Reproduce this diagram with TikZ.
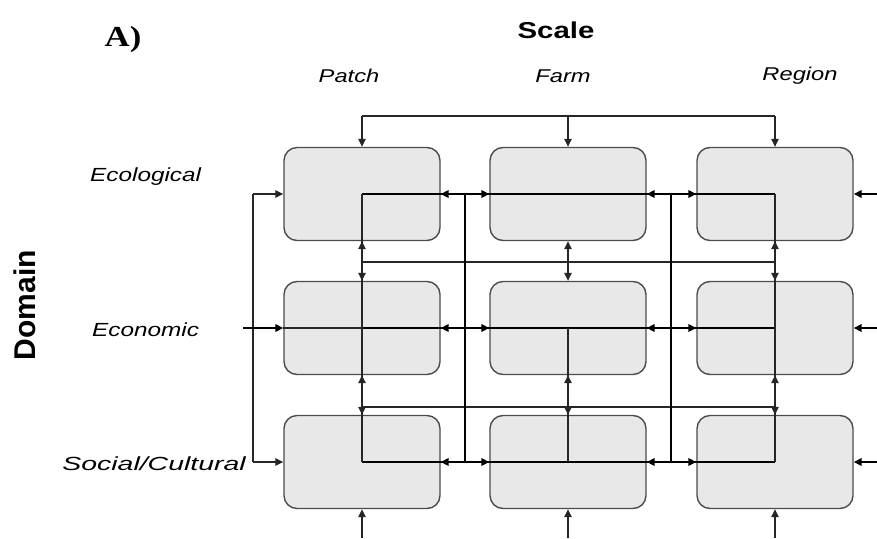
\documentclass[tikz,border=0pt]{standalone}
\usepackage{fontspec}
\usepackage{graphicx}
\setmainfont{Liberation Sans}
\newfontfamily\labfont[FakeStretch=1.28]{Liberation Sans}
\newfontfamily\titlefont[FakeStretch=1.2]{Liberation Serif}
\usetikzlibrary{arrows.meta}

\begin{document}
\begin{tikzpicture}[x=1pt,y=-1pt,
  box/.style={draw=black!70, line width=1.4pt, fill=black!9, rounded corners=13pt,
    minimum width=156pt, minimum height=93pt, inner sep=0pt},
  thinln/.style={line width=1.1pt, draw=black!85},
  boldln/.style={line width=2pt, draw=black},
  tip/.style={-{Triangle[length=8pt,width=7.5pt]}},
  rowlab/.style={font=\labfont\itshape\fontsize{19}{21}\selectfont, anchor=west, inner sep=0pt},
  collab/.style={font=\labfont\itshape\fontsize{18.5}{20}\selectfont, inner sep=0pt}]

\path[use as bounding box] (0,0) rectangle (877,538);

% grid of model components: rows = domains, columns = scales
\node[box] (b11) at (362,194) {};
\node[box] (b12) at (568,194) {};
\node[box] (b13) at (775,194) {};
\node[box] (b21) at (362,328) {};
\node[box] (b22) at (568,328) {};
\node[box] (b23) at (775,328) {};
\node[box] (b31) at (362,462) {};
\node[box] (b32) at (568,462) {};
\node[box] (b33) at (775,462) {};

% bus and junction points
\coordinate (T1) at (362,116);
\coordinate (T2) at (568,116);
\coordinate (T3) at (775,116);
\coordinate (B1) at (362,538);
\coordinate (B2) at (568,538);
\coordinate (B3) at (775,538);
\coordinate (m1) at (362,262);
\coordinate (m2) at (568,262);
\coordinate (m3) at (775,262);
\coordinate (n1) at (362,407);
\coordinate (n2) at (568,407);
\coordinate (n3) at (775,407);
\coordinate (L1) at (253,194);
\coordinate (L2) at (243,328);
\coordinate (L3) at (253,462);
\coordinate (jA1) at (465,194);
\coordinate (jA2) at (465,328);
\coordinate (jA3) at (465,462);
\coordinate (jB1) at (671,194);
\coordinate (jB2) at (671,328);
\coordinate (jB3) at (671,462);
\coordinate (R1) at (877,194);
\coordinate (R2) at (877,328);
\coordinate (R3) at (877,462);

% top bus
\draw[thinln] (T1) -- (T3);
\foreach \c in {1,2,3} {\draw[thinln,tip] (T\c) -- (b1\c.north);}

% left bus
\draw[thinln] (L1) -- (L3);
\draw[thinln,tip] (L1) -- (b11.west);
\draw[thinln,tip] (L3) -- (b31.west);
\draw[boldln,tip] (L2) -- (b21.west);
\draw[thinln] (b21.west) -- (b21.center);

% horizontal flows along each domain
\draw[boldln] (b11.center) -- (b13.center);
\draw[boldln] (b21.center) -- (b23.center);
\draw[boldln] (b31.center) -- (b33.center);

% vertical links between domains
\draw[thinln] (b11.center) -- (b31.center);
\draw[thinln] (b13.center) -- (b33.center);
\draw[thinln] (b22.center) -- (b32.center);
\draw[thinln] (m1) -- (m3);
\draw[thinln] (n1) -- (n3);

% cross-scale connectors
\draw[boldln] (jA1) -- (jA3);
\draw[boldln] (jB1) -- (jB3);

\foreach \r in {1,2,3} {
  \draw[boldln,tip] (jA\r) -- (b\r1.east);
  \draw[boldln,tip] (jA\r) -- (b\r2.west);
  \draw[boldln,tip] (jB\r) -- (b\r2.east);
  \draw[boldln,tip] (jB\r) -- (b\r3.west);
  \draw[boldln,tip] (R\r) -- (b\r3.east);
}
\foreach \c in {1,2,3} {
  \draw[thinln,tip] (m\c) -- (b1\c.south);
  \draw[thinln,tip] (m\c) -- (b2\c.north);
  \draw[thinln,tip] (n\c) -- (b2\c.south);
  \draw[thinln,tip] (n\c) -- (b3\c.north);
  \draw[thinln,tip] (B\c) -- (b3\c.south);
}

% labels
\node[font=\titlefont\bfseries\fontsize{29}{32}\selectfont] (lblA) at (123,40) {A)};
\node[font=\labfont\bfseries\fontsize{23}{26}\selectfont] (scale) at (556,30) {Scale};
\node[collab] (patch) at (349,76) {Patch};
\node[collab] (farm) at (563,76) {Farm};
\node[collab] (region) at (800,76) {Region};
\node[rowlab] (eco) at (90,177) {Ecological};
\node[rowlab] (econ) at (92,330) {Economic};
\node[rowlab, anchor=east] (soc) at (246,464) {\scalebox{1.17}[1]{Social/Cultural}};
\node[rotate=90, font=\bfseries\fontsize{30}{32}\selectfont] (dom) at (25,305) {Domain};
\end{tikzpicture}
\end{document}
